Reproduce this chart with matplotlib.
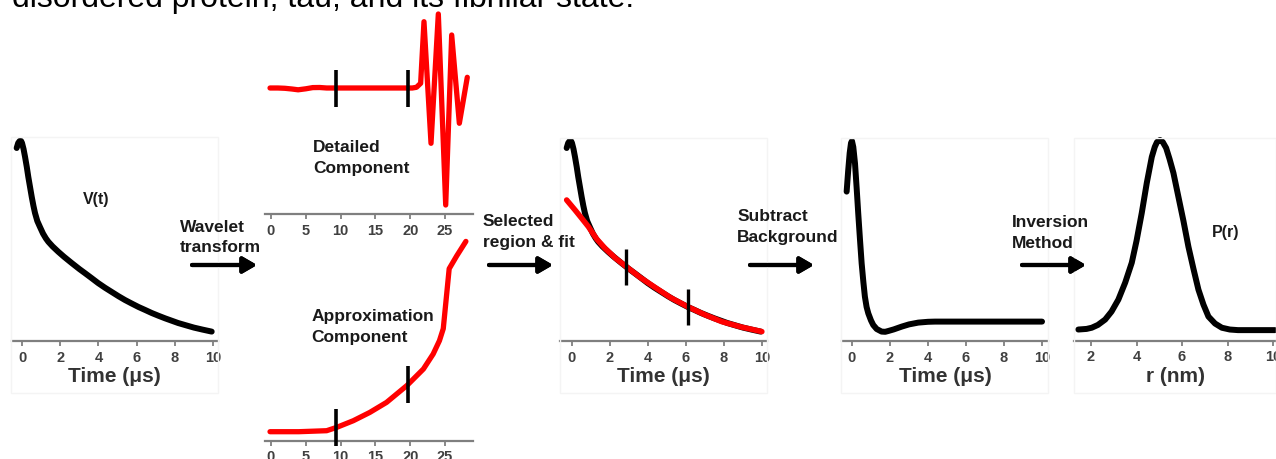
import matplotlib
matplotlib.use("Agg")
import numpy as np
import matplotlib.pyplot as plt
from matplotlib.patches import Rectangle

plt.rcParams['font.family'] = ['Liberation Sans', 'DejaVu Sans']

W, H = 1276, 459

# Raw DEER trace V(t), time in microseconds
signal_t = [-0.28, -0.2, -0.12, -0.05, 0.0, 0.08, 0.16, 0.25, 0.33, 0.42, 0.51, 0.6,
            0.68, 0.8, 0.94, 1.1, 1.25, 1.38, 1.6, 1.9, 2.2, 2.6, 3.0, 3.3, 3.65, 3.98,
            4.35, 4.7, 5.05, 5.39, 5.75, 6.1, 6.45, 6.79, 7.15, 7.5, 7.85, 8.17, 8.6,
            9.0, 9.45, 9.93]
signal_v = [0.965, 0.99, 1.0, 1.0, 0.99, 0.96, 0.92, 0.87, 0.82, 0.77, 0.72, 0.675,
            0.64, 0.60, 0.57, 0.537, 0.513, 0.496, 0.473, 0.446, 0.421, 0.39, 0.36,
            0.339, 0.314, 0.29, 0.266, 0.245, 0.224, 0.205, 0.187, 0.17, 0.155, 0.14,
            0.126, 0.113, 0.101, 0.09, 0.078, 0.067, 0.057, 0.047]

# Wavelet detailed component (index axis)
detail_t = [-0.14, 1, 2, 3, 3.9, 5, 6, 7, 8, 10, 14, 18, 20.3, 20.9, 21.5, 21.98,
            22.99, 24.04, 25.1, 25.96, 27.06, 28.2]
detail_v = [0.0, 0.0, -0.003, -0.01, -0.018, -0.008, 0.004, 0.005, 0.0, 0.0, 0.0, 0.0,
            0.0, 0.007, 0.047, 0.663, -0.553, 0.74, -1.17, 0.53, -0.353, 0.107]

# Wavelet approximation component
approx_t = [-0.14, 4, 8.0, 9.43, 11.83, 14.2, 16.6, 19.5, 21.9, 23.3, 24.2, 24.75,
            25.6, 26.7, 28.0]
approx_v = [0.09, 0.09, 0.10, 0.133, 0.20, 0.283, 0.383, 0.55, 0.717, 0.867, 1.0, 1.12,
            1.72, 1.85, 1.993]

# Selected window boundaries on the wavelet components
window_t = [9.3, 19.7]

# Background fit over the selected region
fit_t = [-0.28, 0.16, 0.5, 0.86, 1.3, 1.74, 2.3, 2.84, 3.6, 4.37, 5.2, 6.12, 7.0,
         7.88, 8.9, 9.99]
fit_v = [0.705, 0.655, 0.615, 0.572, 0.51, 0.463, 0.413, 0.373, 0.317, 0.268, 0.216,
         0.17, 0.131, 0.097, 0.07, 0.047]
fit_window_t = [2.85, 6.1]

# Background-subtracted trace
sub_t = [-0.28, -0.2, -0.12, -0.05, 0.0, 0.07, 0.16, 0.25, 0.33, 0.42, 0.51, 0.6,
         0.68, 0.77, 0.86, 1.0, 1.12, 1.3, 1.56, 1.75, 1.91, 2.2, 2.62, 3.0, 3.49, 4.0,
         4.37, 6.0, 8.0, 10.0]
sub_v = [0.747, 0.85, 0.94, 0.99, 1.0, 0.97, 0.888, 0.76, 0.638, 0.51, 0.388, 0.295,
         0.222, 0.17, 0.138, 0.103, 0.08, 0.06, 0.047, 0.046, 0.05, 0.058, 0.072, 0.083,
         0.092, 0.096, 0.097, 0.097, 0.097, 0.097]

# Distance distribution P(r), r in nm
r_nm = [1.44, 1.8, 2.03, 2.3, 2.62, 2.9, 3.2, 3.5, 3.79, 4.0, 4.23, 4.45, 4.67, 4.8,
        4.9, 5.03, 5.15, 5.3, 5.45, 5.62, 5.84, 6.06, 6.28, 6.5, 6.72, 6.94, 7.16, 7.45,
        7.75, 8.1, 8.46, 10.09]
p_r = [0.055, 0.058, 0.064, 0.078, 0.105, 0.145, 0.205, 0.29, 0.39, 0.5, 0.64, 0.79,
       0.92, 0.97, 0.995, 1.005, 0.995, 0.965, 0.91, 0.84, 0.72, 0.6, 0.47, 0.36, 0.255,
       0.18, 0.12, 0.085, 0.064, 0.055, 0.052, 0.052]

time_ticks = [0, 2, 4, 6, 8, 10]
index_ticks = [0, 5, 10, 15, 20, 25]
r_ticks = [2, 4, 6, 8, 10]

AXIS_GREY = '#7f7f7f'
TICK_TXT = '#404040'
LABEL_TXT = '#333333'

fig = plt.figure(figsize=(W / 100, H / 100), dpi=100)
fig.patch.set_facecolor('white')


def panel(x0, x1, y_spine, y_top, xlim, ylim, ticks, xlabel=None):
    ax = fig.add_axes([x0 / W, (H - y_spine) / H, (x1 - x0) / W, (y_spine - y_top) / H])
    ax.set_facecolor('none')
    ax.set_xlim(*xlim)
    ax.set_ylim(*ylim)
    for s in ('left', 'top', 'right'):
        ax.spines[s].set_visible(False)
    ax.spines['bottom'].set_color(AXIS_GREY)
    ax.spines['bottom'].set_linewidth(1.6)
    ax.set_yticks([])
    ax.set_xticks(ticks)
    ax.tick_params(axis='x', direction='out', length=3.5, width=1.3, color=AXIS_GREY,
                   pad=3.5, labelsize=10.5, labelcolor=TICK_TXT)
    for lab in ax.get_xticklabels():
        lab.set_fontweight('bold')
    if xlabel:
        ax.set_xlabel(xlabel, fontsize=15, fontweight='bold', color=LABEL_TXT, labelpad=2)
    return ax


def frame(x0, x1, y0, y1):
    fig.add_artist(Rectangle((x0 / W, (H - y1) / H), (x1 - x0) / W, (y1 - y0) / H,
                             transform=fig.transFigure, fill=False,
                             ec='#f4f4f4', lw=1.0))


def label(x, y_base, s, size=12.5):
    # y_base is the baseline of the last line
    fig.text(x / W, (H - y_base) / H, s, fontsize=size, fontweight='bold',
             color='#1a1a1a', ha='left', va='baseline', linespacing=1.5)


def arrow(x0, x1, y):
    fig.add_artist(plt.annotate('', xy=(x1, H - y), xytext=(x0, H - y),
                                xycoords='figure pixels', textcoords='figure pixels',
                                arrowprops=dict(arrowstyle='-|>,head_length=0.55,head_width=0.32',
                                                lw=3.0, color='black', mutation_scale=15,
                                                shrinkA=0, shrinkB=0)))


def markers(ax, xs, curve_t, curve_v, half, lw=2.6):
    for xm in xs:
        yc = np.interp(xm, curve_t, curve_v)
        ax.plot([xm, xm], [yc - half, yc + half], color='black', lw=lw,
                solid_capstyle='butt', clip_on=False, zorder=5)


line_kw = dict(lw=4.3, solid_capstyle='round', solid_joinstyle='round', clip_on=False)

# faint panel frames
frame(11, 218, 137, 393)
frame(560, 767, 138, 393)
frame(841, 1048, 138, 393)
frame(1074, 1276, 138, 393)

# Panel 1: raw signal
ax1 = panel(11.7, 218, 341, 135, (-0.54, 10.26), (0, 1.03), time_ticks, 'Time (μs)')
ax1.plot(signal_t, signal_v, color='black', **line_kw)

# Panel 2a: detailed component
ax2a = panel(265, 472.5, 214, 5, (-0.86, 28.95), (-1.26, 0.83), index_ticks)
ax2a.plot(detail_t, detail_v, color='#ff0000', **dict(line_kw, lw=3.8))
markers(ax2a, window_t, detail_t, detail_v, 0.185)

# Panel 2b: approximation component
ax2b = panel(265, 472.5, 440.7, 230, (-0.86, 28.95), (0, 2.107), index_ticks)
ax2b.plot(approx_t, approx_v, color='#ff0000', **dict(line_kw, lw=3.8))
markers(ax2b, window_t, approx_t, approx_v, 0.185)

# Panel 3: signal with background fit
ax3 = panel(560, 767, 341, 135, (-0.63, 10.26), (0, 1.03), time_ticks, 'Time (μs)')
ax3.plot(signal_t, signal_v, color='black', **line_kw)
ax3.plot(fit_t, fit_v, color='#ff0000', **dict(line_kw, lw=4.0))
markers(ax3, fit_window_t, fit_t, fit_v, 0.09, lw=2.4)

# Panel 4: background-subtracted signal
ax4 = panel(841.7, 1048.3, 341, 135, (-0.54, 10.33), (0, 1.03), time_ticks, 'Time (μs)')
ax4.plot(sub_t, sub_v, color='black', **line_kw)

# Panel 5: distance distribution
ax5 = panel(1074, 1276, 340.5, 135, (1.25, 10.13), (0, 1.03), r_ticks, 'r (nm)')
ax5.plot(r_nm, p_r, color='black', **line_kw)

# Labels
label(83, 204, 'V(t)', 11.5)
label(180, 252.5, 'Wavelet\ntransform')
label(313, 173.3, 'Detailed\nComponent')
label(311.7, 341.7, 'Approximation\nComponent')
label(483, 247, 'Selected\nregion & fit')
label(737.3, 242.3, 'Subtract\nBackground')
label(1011.7, 248.3, 'Inversion\nMethod')
label(1212, 237, 'P(r)', 11.5)

# Arrows
arrow(192, 257, 265)
arrow(489, 553, 265)
arrow(750, 814, 265)
arrow(1022, 1086, 265)

# Caption line running off the top edge
fig.text(12 / W, (H - 7) / H, 'disordered protein, tau, and its fibrillar state.',
         fontsize=23, color='black', ha='left', va='baseline')

fig.savefig('out.png', dpi=100, facecolor='white')
